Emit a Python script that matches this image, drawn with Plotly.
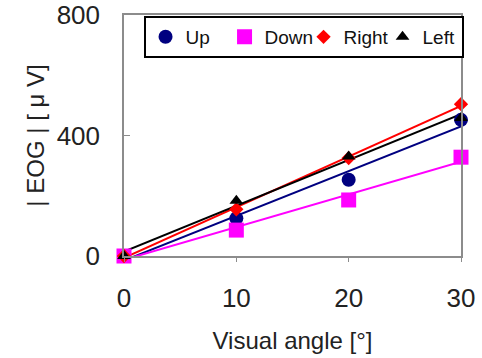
import numpy as np
import plotly.graph_objects as go

# Visual angle (degrees) and |EOG| amplitude (microvolts) per gaze direction
angles = [0, 10, 20, 30]
up = [0, 125, 253, 452]
down = [0, 86, 186, 328]
right = [0, 155, 325, 504]
left = [0, 183, 330, 458]

series = [
    ("Up", up, "#000080", "circle", 14),
    ("Down", down, "#FF00FF", "square", 15),
    ("Right", right, "#FF0000", "diamond", 11),
    ("Left", left, "#000000", "triangle-up", 12),
]

fig = go.Figure()
x_fit = np.array([0, 30])
for name, vals, color, symbol, size in series:
    # least-squares trend line for each direction
    slope, intercept = np.polyfit(angles, vals, 1)
    fig.add_trace(go.Scatter(
        x=x_fit, y=slope * x_fit + intercept, mode="lines",
        line=dict(color=color, width=2), showlegend=False, hoverinfo="skip"))

for name, vals, color, symbol, size in series:
    fig.add_trace(go.Scatter(
        x=angles, y=vals, mode="markers", name=name,
        marker=dict(color=color, symbol=symbol, size=size),
        cliponaxis=False))

font_family = "Liberation Sans, Arial, sans-serif"
fig.update_layout(
    width=482, height=358,
    margin=dict(l=124, r=21, t=15, b=102),
    paper_bgcolor="white", plot_bgcolor="white",
    font=dict(family=font_family, size=24, color="#222222"),
    legend=dict(
        orientation="h", x=0.058, y=0.996, xanchor="left", yanchor="top",
        bgcolor="white", bordercolor="black", borderwidth=2,
        font=dict(size=19, color="#111111"),
        itemwidth=30, entrywidth=34, entrywidthmode="pixels",
    ),
    xaxis=dict(
        range=[0, 30], tickvals=[0, 10, 20, 30], automargin=False,
        showgrid=False, zeroline=False,
        showline=True, linecolor="#8c8c8c", linewidth=1.5, mirror=True,
        ticks="outside", ticklen=4, tickcolor="#8c8c8c",
        tickfont=dict(size=26), ticklabelstandoff=14,
        title=dict(text="Visual angle [°]", font=dict(size=24), standoff=20),
    ),
    yaxis=dict(
        range=[0, 800], tickvals=[0, 400, 800], automargin=False,
        showgrid=False, zeroline=False,
        showline=True, linecolor="#8c8c8c", linewidth=1.5, mirror=True,
        ticks="inside", ticklen=6, tickcolor="#8c8c8c",
        tickfont=dict(size=26), ticklabelstandoff=17,
        title=dict(text="| EOG | [ μ V]", font=dict(size=24), standoff=5),
    ),
)

fig.write_html("out.html")
